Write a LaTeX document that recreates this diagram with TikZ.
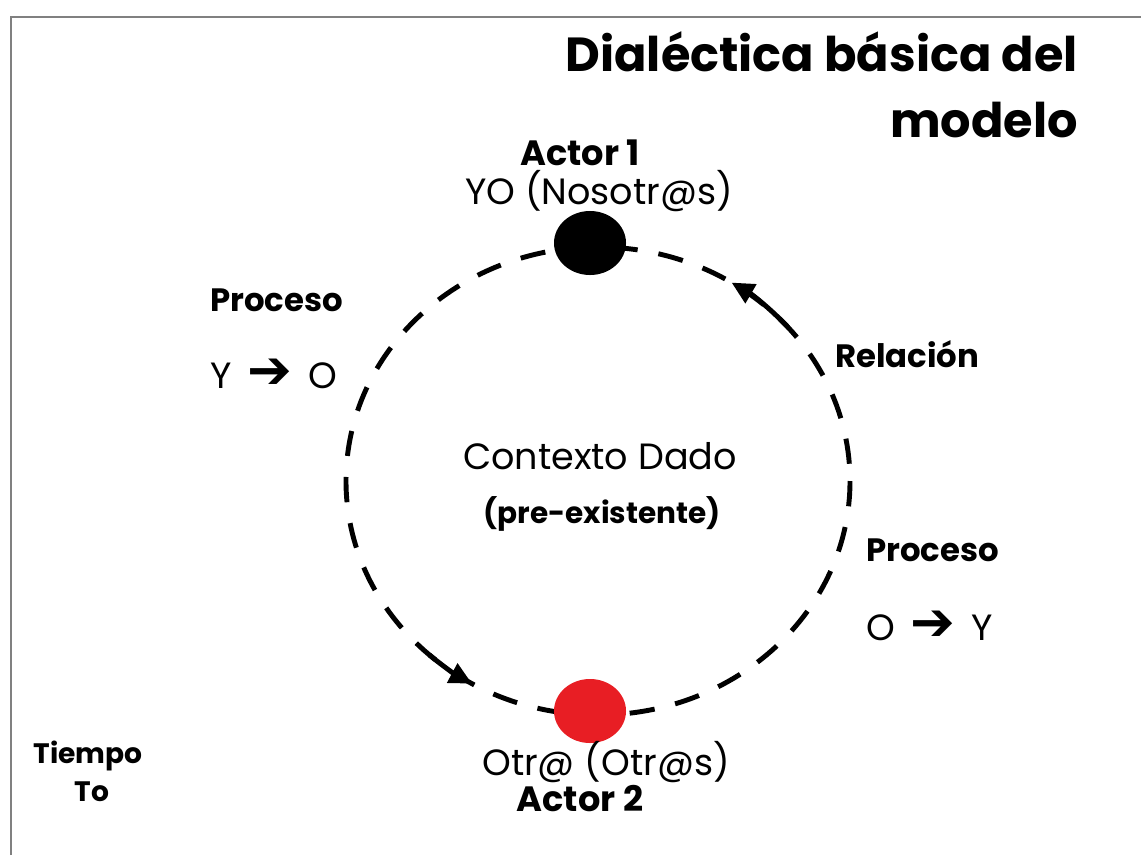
\documentclass[tikz,border=0pt]{standalone}
\usepackage{fontspec}
\setmainfont{Poppins}
\newfontfamily\arrowfont{DejaVu Sans}
\usetikzlibrary{arrows.meta,shapes.geometric}

\tikzset{
  title/.style={font=\bfseries\fontsize{34}{40}\selectfont, inner sep=0pt},
  bold/.style={font=\bfseries\fontsize{23}{27}\selectfont, inner sep=0pt},
  actor/.style={font=\bfseries\fontsize{25}{29}\selectfont, inner sep=0pt},
  plain/.style={font=\fontsize{26}{30}\selectfont, inner sep=0pt},
  small/.style={font=\bfseries\fontsize{21}{25}\selectfont, inner sep=0pt},
  tiny/.style={font=\bfseries\fontsize{20}{24}\selectfont, inner sep=0pt},
  dot/.style={ellipse, minimum width=1.8cm, minimum height=1.6cm, inner sep=0pt},
  ring/.style={line width=3.5pt, dash pattern=on 18pt off 15pt},
  turn/.style={line width=3.5pt, -{Triangle[length=16pt, width=15pt]}}
}
\newcommand{\goesto}{\,{\arrowfont\bfseries\fontsize{38}{38}\selectfont ➔}\,}

\begin{document}
\begin{tikzpicture}[x=0.025cm, y=-0.025cm]
\useasboundingbox (0,0) rectangle (1141,855);

% frame
\draw [gray, line width=2pt] (11,855) -- (11,17) -- (1141,17);

% title
\node (titleA) at (1078,52) [anchor=east, title] {Dialéctica básica del};
\node (titleB) at (1078,120) [anchor=east, title] {modelo};

% context ring
\coordinate (ctr) at (598,481);
\draw [ring] (ctr) ellipse [x radius=252, y radius=234];

% arrows on the ring
\path (ctr) ++(132:252 and 234) coordinate (downStart);
\draw [turn] (downStart) arc [start angle=132, end angle=120, x radius=252, y radius=234];
\path (ctr) ++(-41:252 and 234) coordinate (upStart);
\draw [turn] (upStart) arc [start angle=-41, end angle=-58, x radius=252, y radius=234];

% actor 1
\node (yo) at (590,243) [dot, fill=black] {};
\node (actorA) at (580,153) [actor] {Actor 1};
\node (nosotros) at (599,191) [plain] {YO (Nosotr@s)};

% actor 2
\node (otro) at (590,711) [dot, fill={rgb,255:red,232;green,30;blue,36}] {};
\node (otros) at (606,762) [plain] {Otr@ (Otr@s)};
\node (actorB) at (580,799) [actor] {Actor 2};

% context
\node (ctxA) at (600,456) [plain] {Contexto Dado};
\node (ctxB) at (602,514) [small] {(pre-existente)};

% processes
\node (procA) at (210,300) [anchor=west, bold] {Proceso};
\node (procAdir) at (210,374) [anchor=west, plain] {Y \goesto{} O};
\node (procB) at (866,550) [anchor=west, bold] {Proceso};
\node (procBdir) at (866,626) [anchor=west, plain] {O \goesto{} Y};

% relation
\node (rel) at (835,354) [anchor=west, bold] {Relación};

% time
\node (tiempo) at (88,756) [tiny] {Tiempo};
\node (to) at (92,792) [tiny] {To};

\end{tikzpicture}
\end{document}
